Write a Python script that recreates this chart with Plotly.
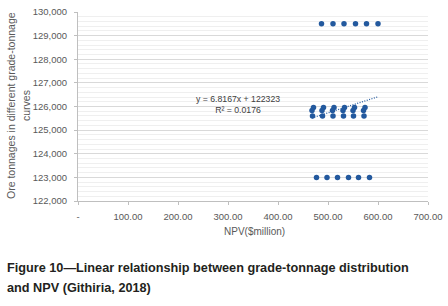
import plotly.graph_objects as go

# Data
x_top = [487, 510, 532, 555, 577, 600]
y_top = [129500] * 6
x_mid_hi = [471, 491, 512, 533, 553, 574]
y_mid_hi = [125960] * 6
x_mid_lo = [468, 488, 509, 530, 550, 571]
y_mid_lo = [125830] * 6
x_low = [469, 489, 510, 531, 551, 572]
y_low = [125600] * 6
x_bot = [477, 498, 519, 541, 561, 583]
y_bot = [123000] * 6

slope = 6.8167
intercept = 122323
r2 = 0.0176

x_ticks = [0, 100, 200, 300, 400, 500, 600, 700]
x_ticklabels = ["-", "100.00", "200.00", "300.00", "400.00", "500.00", "600.00", "700.00"]
y_ticks = [122000, 123000, 124000, 125000, 126000, 127000, 128000, 129000, 130000]

all_x = x_top + x_mid_hi + x_mid_lo + x_low + x_bot
all_y = y_top + y_mid_hi + y_mid_lo + y_low + y_bot

blue = "#23599e"
grey = "#595959"
FONT = "Liberation Sans, Arial, sans-serif"

W, H = 448, 306
L, R, T, B = 78, 20, 12, 105
PW, PH = W - L - R, H - T - B

def px(fx):
    return (fx - L) / PW

def py(fy):
    return 1 - (fy - T) / PH

fig = go.Figure()
fig.add_trace(go.Scatter(x=all_x, y=all_y, mode="markers",
                         marker=dict(color=blue, size=5.5), hoverinfo="skip"))
tx = [min(all_x), max(all_x)]
ty = [slope * v + intercept for v in tx]
fig.add_trace(go.Scatter(x=tx, y=ty, mode="lines",
                         line=dict(color=blue, width=1.2, dash="1px,1.5px"), hoverinfo="skip"))

fig.add_annotation(x=320, y=126100, xref="x", yref="y",
                   text=f"y = {slope}x + {intercept}<br>R² = {r2}",
                   showarrow=False, align="center",
                   font=dict(family=FONT, size=8.7, color="#404040"))

# y-axis title (two lines)
fig.add_annotation(xref="paper", yref="paper", x=px(11), y=py(106), textangle=-90,
                   xanchor="center", yanchor="middle",
                   text="Ore tonnages in different grade-tonnage", showarrow=False,
                   font=dict(family=FONT, size=10.5, color=grey))
fig.add_annotation(xref="paper", yref="paper", x=px(26), y=py(106), textangle=-90,
                   xanchor="center", yanchor="middle",
                   text="curves", showarrow=False,
                   font=dict(family=FONT, size=10.5, color=grey))
# x-axis title
fig.add_annotation(xref="paper", yref="paper", x=px(254), y=py(231),
                   xanchor="center", yanchor="middle",
                   text="NPV($million)", showarrow=False,
                   font=dict(family=FONT, size=10, color=grey))

# caption
cap1 = "Figure 10—Linear relationship between grade-tonnage distribution"
cap2 = "and NPV (Githiria, 2018)"
for txt, fy in [(cap1, 268), (cap2, 288)]:
    fig.add_annotation(xref="paper", yref="paper", x=px(5), y=py(fy),
                       xanchor="left", yanchor="middle",
                       text=txt, showarrow=False, align="left",
                       font=dict(family=FONT, size=12.7, color="#231f20", weight="bold"))

fig.update_layout(
    width=W, height=H,
    margin=dict(l=L, r=R, t=T, b=B, autoexpand=False),
    paper_bgcolor="white", plot_bgcolor="white",
    showlegend=False,
    font=dict(family=FONT, color=grey),
    xaxis=dict(range=[0, 700], tickvals=x_ticks, ticktext=x_ticklabels,
               tickfont=dict(size=9.5, color=grey), ticklabelstandoff=4,
               showgrid=False, zeroline=False, showline=True, linecolor="#bfbfbf", linewidth=1,
               ticks="outside", ticklen=3, tickcolor="#bfbfbf"),
    yaxis=dict(range=[122000, 130000], tickvals=y_ticks, tickformat=",d",
               tickfont=dict(size=9.5, color=grey), ticklabelstandoff=5,
               showgrid=True, gridcolor="#d9d9d9", gridwidth=1,
               minor=dict(dtick=200, showgrid=True, gridcolor="#efefef", gridwidth=1),
               zeroline=False, showline=True, linecolor="#bfbfbf", linewidth=1,
               ticks="outside", ticklen=3, tickcolor="#bfbfbf"),
)

fig.write_html("out.html",
               config={"displayModeBar": False, "staticPlot": True},
               post_script="document.body.style.margin='0';document.body.style.overflow='hidden';")
